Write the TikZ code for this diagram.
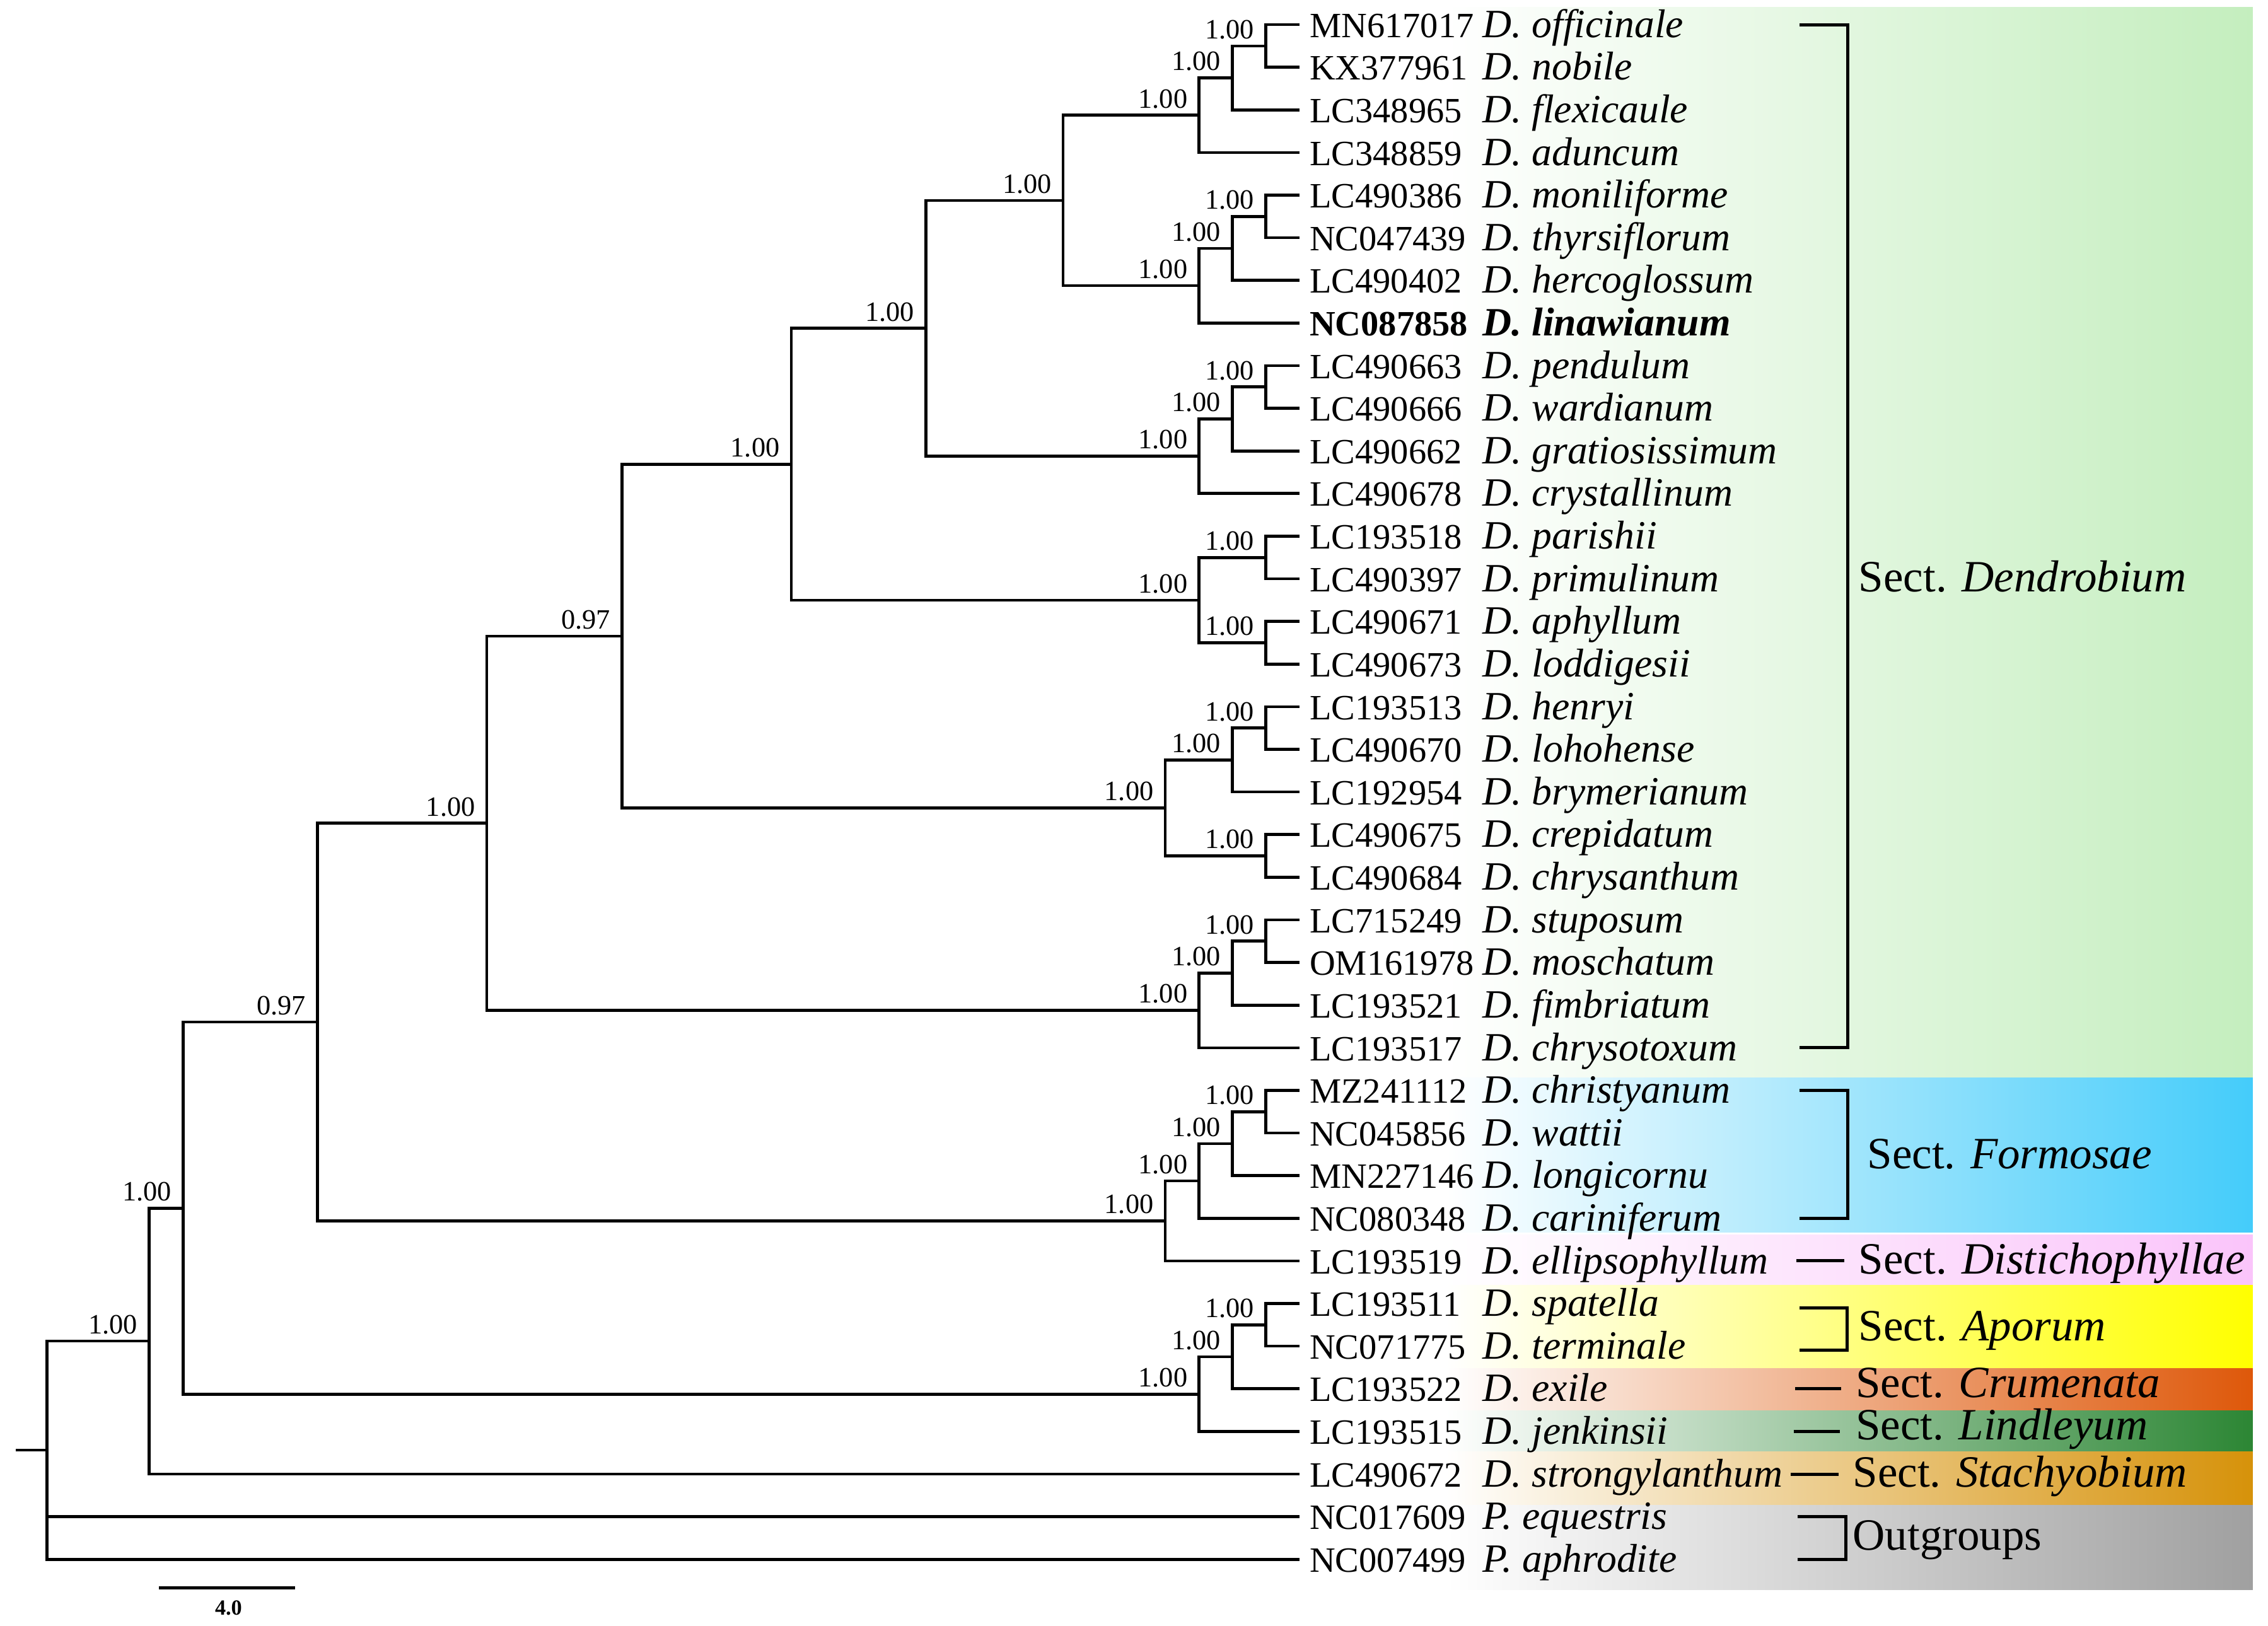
\documentclass[tikz,border=0pt]{standalone}
\usepackage{fontspec}
\setmainfont{Liberation Serif}
\newcommand{\accfont}{\fontsize{14}{16}\selectfont}
\newcommand{\acc}[1]{\makebox[68.1pt][l]{\accfont #1}}
\definecolor{dengreen}{RGB}{196,238,190}
\definecolor{forblue}{RGB}{68,204,250}
\definecolor{dispink}{RGB}{250,196,250}
\definecolor{apoyellow}{RGB}{255,255,0}
\definecolor{cruorange}{RGB}{222,88,10}
\definecolor{lingreen}{RGB}{44,134,52}
\definecolor{staorange}{RGB}{214,146,10}
\definecolor{outgrey}{RGB}{160,160,160}
\tikzset{
  tip/.style={anchor=west, inner xsep=3.4pt, inner ysep=0pt, text height=13.1pt, text depth=3.1pt, font=\fontsize{15.8}{18}\selectfont},
  bs/.style={anchor=base east, inner sep=0pt, font=\fontsize{11}{12}\selectfont, xshift=-4pt, yshift=2.9pt},
  sect/.style={anchor=base west, inner sep=0pt, font=\fontsize{17.6}{20}\selectfont},
  brk/.style={line width=1.25pt},
  band/.style={left color=white, right color=#1}
}
\begin{document}
\begin{tikzpicture}[x=0.2mm, y=-5.895mm, line width=1.15pt]
\useasboundingbox (0,0.4232) rectangle (1568,38.557);
% section bands
\fill[band=dengreen] (1000,0.593) rectangle (1557.5,25.699);
\fill[band=forblue] (1000,25.699) rectangle (1557.5,29.329);
\fill[band=dispink] (1000,29.38) rectangle (1557.5,30.564);
\fill[band=apoyellow] (1000,30.564) rectangle (1557.5,32.518);
\fill[band=cruorange] (1000,32.518) rectangle (1557.5,33.515);
\fill[band=lingreen] (1000,33.515) rectangle (1557.5,34.479);
\fill[band=staorange] (1000,34.479) rectangle (1557.5,35.734);
\fill[band=outgrey] (1000,35.734) rectangle (1557.5,37.706);

% tips
\node[tip] (t1) at (898.5,1) {\acc{MN617017}\textit{D. officinale}};
\node[tip] (t2) at (898.5,2) {\acc{KX377961}\textit{D. nobile}};
\node[tip] (t3) at (898.5,3) {\acc{LC348965}\textit{D. flexicaule}};
\node[tip] (t4) at (898.5,4) {\acc{LC348859}\textit{D. aduncum}};
\node[tip] (t5) at (898.5,5) {\acc{LC490386}\textit{D. moniliforme}};
\node[tip] (t6) at (898.5,6) {\acc{NC047439}\textit{D. thyrsiflorum}};
\node[tip] (t7) at (898.5,7) {\acc{LC490402}\textit{D. hercoglossum}};
\node[tip] (t8) at (898.5,8) {\acc{\bfseries NC087858}\textbf{\textit{D. linawianum}}};
\node[tip] (t9) at (898.5,9) {\acc{LC490663}\textit{D. pendulum}};
\node[tip] (t10) at (898.5,10) {\acc{LC490666}\textit{D. wardianum}};
\node[tip] (t11) at (898.5,11) {\acc{LC490662}\textit{D. gratiosissimum}};
\node[tip] (t12) at (898.5,12) {\acc{LC490678}\textit{D. crystallinum}};
\node[tip] (t13) at (898.5,13) {\acc{LC193518}\textit{D. parishii}};
\node[tip] (t14) at (898.5,14) {\acc{LC490397}\textit{D. primulinum}};
\node[tip] (t15) at (898.5,15) {\acc{LC490671}\textit{D. aphyllum}};
\node[tip] (t16) at (898.5,16) {\acc{LC490673}\textit{D. loddigesii}};
\node[tip] (t17) at (898.5,17) {\acc{LC193513}\textit{D. henryi}};
\node[tip] (t18) at (898.5,18) {\acc{LC490670}\textit{D. lohohense}};
\node[tip] (t19) at (898.5,19) {\acc{LC192954}\textit{D. brymerianum}};
\node[tip] (t20) at (898.5,20) {\acc{LC490675}\textit{D. crepidatum}};
\node[tip] (t21) at (898.5,21) {\acc{LC490684}\textit{D. chrysanthum}};
\node[tip] (t22) at (898.5,22) {\acc{LC715249}\textit{D. stuposum}};
\node[tip] (t23) at (898.5,23) {\acc{OM161978}\textit{D. moschatum}};
\node[tip] (t24) at (898.5,24) {\acc{LC193521}\textit{D. fimbriatum}};
\node[tip] (t25) at (898.5,25) {\acc{LC193517}\textit{D. chrysotoxum}};
\node[tip] (t26) at (898.5,26) {\acc{MZ241112}\textit{D. christyanum}};
\node[tip] (t27) at (898.5,27) {\acc{NC045856}\textit{D. wattii}};
\node[tip] (t28) at (898.5,28) {\acc{MN227146}\textit{D. longicornu}};
\node[tip] (t29) at (898.5,29) {\acc{NC080348}\textit{D. cariniferum}};
\node[tip] (t30) at (898.5,30) {\acc{LC193519}\textit{D. ellipsophyllum}};
\node[tip] (t31) at (898.5,31) {\acc{LC193511}\textit{D. spatella}};
\node[tip] (t32) at (898.5,32) {\acc{NC071775}\textit{D. terminale}};
\node[tip] (t33) at (898.5,33) {\acc{LC193522}\textit{D. exile}};
\node[tip] (t34) at (898.5,34) {\acc{LC193515}\textit{D. jenkinsii}};
\node[tip] (t35) at (898.5,35) {\acc{LC490672}\textit{D. strongylanthum}};
\node[tip] (t36) at (898.5,36) {\acc{NC017609}\textit{P. equestris}};
\node[tip] (t37) at (898.5,37) {\acc{NC007499}\textit{P. aphrodite}};

% internal nodes
\coordinate (o2) at (875,1.5);
\coordinate (o1) at (852,2.25);
\coordinate (o) at (829,3.125);
\coordinate (p2) at (875,5.5);
\coordinate (p1) at (852,6.25);
\coordinate (p) at (829,7.125);
\coordinate (m) at (735,5.125);
\coordinate (n2) at (875,9.5);
\coordinate (n1) at (852,10.25);
\coordinate (n) at (829,11.125);
\coordinate (k) at (640,8.125);
\coordinate (l1) at (875,13.5);
\coordinate (l2) at (875,15.5);
\coordinate (l) at (829,14.5);
\coordinate (i) at (547,11.3125);
\coordinate (j2) at (875,17.5);
\coordinate (j1) at (852,18.25);
\coordinate (j3) at (875,20.5);
\coordinate (j) at (805.5,19.375);
\coordinate (g) at (430,15.344);
\coordinate (h2) at (875,22.5);
\coordinate (h1) at (852,23.25);
\coordinate (h) at (829,24.125);
\coordinate (e) at (336.5,19.734);
\coordinate (f3) at (875,26.5);
\coordinate (f2) at (852,27.25);
\coordinate (f1) at (829,28.125);
\coordinate (f) at (805.5,29.0625);
\coordinate (c) at (219.5,24.398);
\coordinate (d2) at (875,31.5);
\coordinate (d1) at (852,32.25);
\coordinate (d) at (829,33.125);
\coordinate (b) at (126.5,28.762);
\coordinate (a) at (103,31.881);
\coordinate (root) at (32.5,34.44);
\coordinate (stub) at (11,34.44);

% branches
\draw (t1.west) -| (o2) |- (t2.west);
\draw (o2) -| (o1) |- (t3.west);
\draw (o1) -| (o) |- (t4.west);
\draw (t5.west) -| (p2) |- (t6.west);
\draw (p2) -| (p1) |- (t7.west);
\draw (p1) -| (p) |- (t8.west);
\draw (o) -| (m) |- (p);
\draw (t9.west) -| (n2) |- (t10.west);
\draw (n2) -| (n1) |- (t11.west);
\draw (n1) -| (n) |- (t12.west);
\draw (m) -| (k) |- (n);
\draw (t13.west) -| (l1) |- (t14.west);
\draw (t15.west) -| (l2) |- (t16.west);
\draw (l1) -| (l) |- (l2);
\draw (k) -| (i) |- (l);
\draw (t17.west) -| (j2) |- (t18.west);
\draw (j2) -| (j1) |- (t19.west);
\draw (t20.west) -| (j3) |- (t21.west);
\draw (j1) -| (j) |- (j3);
\draw (i) -| (g) |- (j);
\draw (t22.west) -| (h2) |- (t23.west);
\draw (h2) -| (h1) |- (t24.west);
\draw (h1) -| (h) |- (t25.west);
\draw (g) -| (e) |- (h);
\draw (t26.west) -| (f3) |- (t27.west);
\draw (f3) -| (f2) |- (t28.west);
\draw (f2) -| (f1) |- (t29.west);
\draw (f1) -| (f) |- (t30.west);
\draw (e) -| (c) |- (f);
\draw (t31.west) -| (d2) |- (t32.west);
\draw (d2) -| (d1) |- (t33.west);
\draw (d1) -| (d) |- (t34.west);
\draw (c) -| (b) |- (d);
\draw (b) -| (a) |- (t35.west);
\draw (a) -| (root) |- (t37.west);
\draw (root) |- (t36.west);
\draw (stub) -- (root);

% posterior probabilities
\node[bs] (so2) at (o2) {1.00}; \node[bs] (so1) at (o1) {1.00}; \node[bs] (so) at (o) {1.00};
\node[bs] (sp2) at (p2) {1.00}; \node[bs] (sp1) at (p1) {1.00}; \node[bs] (sp) at (p) {1.00};
\node[bs] (sm) at (m) {1.00}; \node[bs] (sk) at (k) {1.00};
\node[bs] (sn2) at (n2) {1.00}; \node[bs] (sn1) at (n1) {1.00}; \node[bs] (sn) at (n) {1.00};
\node[bs] (sl1) at (l1) {1.00}; \node[bs] (sl2) at (l2) {1.00}; \node[bs] (sl) at (l) {1.00};
\node[bs] (si) at (i) {1.00}; \node[bs] (sg) at (g) {0.97};
\node[bs] (sj2) at (j2) {1.00}; \node[bs] (sj1) at (j1) {1.00}; \node[bs] (sj3) at (j3) {1.00}; \node[bs] (sj) at (j) {1.00};
\node[bs] (sh2) at (h2) {1.00}; \node[bs] (sh1) at (h1) {1.00}; \node[bs] (sh) at (h) {1.00};
\node[bs] (se) at (e) {1.00}; \node[bs] (sc) at (c) {0.97};
\node[bs] (sf3) at (f3) {1.00}; \node[bs] (sf2) at (f2) {1.00}; \node[bs] (sf1) at (f1) {1.00}; \node[bs] (sf) at (f) {1.00};
\node[bs] (sd2) at (d2) {1.00}; \node[bs] (sd1) at (d1) {1.00}; \node[bs] (sd) at (d) {1.00};
\node[bs] (sb) at (b) {1.00}; \node[bs] (sa) at (a) {1.00};

% section brackets and names
\draw[brk] (1244,1) -- (1277.5,1) -- (1277.5,25) -- (1244,25);
\draw[brk] (1244,26) -- (1277.5,26) -- (1277.5,29) -- (1244,29);
\draw[brk] (1242,30) -- (1275,30);
\draw[brk] (1244,31.1) -- (1277,31.1) -- (1277,32.1) -- (1244,32.1);
\draw[brk] (1241,33) -- (1273,33);
\draw[brk] (1240,34) -- (1272,34);
\draw[brk] (1238,35) -- (1271,35);
\draw[brk] (1243,36) -- (1276,36) -- (1276,37) -- (1243,37);
\node[sect] (sden) at (1284,14.3) {Sect. \textit{Dendrobium}};
\node[sect] (sfor) at (1290,27.836) {Sect. \textit{Formosae}};
\node[sect] (sdis) at (1284,30.302) {Sect. \textit{Distichophyllae}};
\node[sect] (sapo) at (1284,31.873) {Sect. \textit{Aporum}};
\node[sect] (scru) at (1282,33.196) {Sect. \textit{Crumenata}};
\node[sect] (slin) at (1282,34.2) {Sect. \textit{Lindleyum}};
\node[sect] (ssta) at (1280,35.3) {Sect. \textit{Stachyobium}};
\node[sect] (sout) at (1280,36.786) {Outgroups};

% scale bar
\coordinate (sb1) at (110,37.67);
\coordinate (sb2) at (204,37.67);
\draw (sb1) -- (sb2);
\node[anchor=north, inner sep=0pt, yshift=-4.3pt, font=\bfseries\fontsize{8.5}{10}\selectfont] (sbl) at (158,37.67) {4.0};
\end{tikzpicture}
\end{document}
